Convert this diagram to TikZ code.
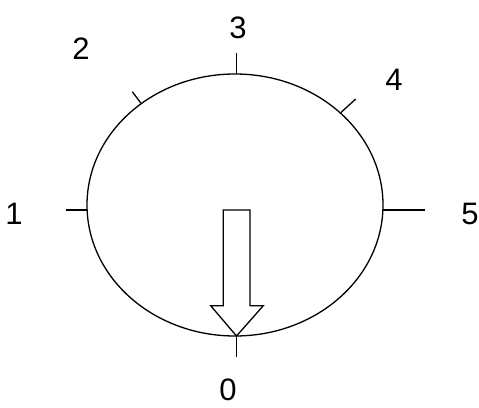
\documentclass[tikz,border=0pt]{standalone}
\usepackage{fontspec}
\setmainfont{Liberation Sans}
\usetikzlibrary{shapes.geometric}
\begin{document}
\begin{tikzpicture}[x=1pt,y=-1pt,
  line/.style={line width=1.3pt,line join=miter},
  lbl/.style={inner sep=0pt,font=\fontsize{31}{31}\selectfont}]
\clip (0,0) rectangle (479,407);
\useasboundingbox (0,0) rectangle (479,407);
% dial
\node[ellipse,draw,line width=1.3pt,inner sep=0pt,minimum width=296pt,minimum height=262pt] (dial) at (235,205) {};
% tick coordinates
\coordinate (t3a) at (236.5,74);
\coordinate (t3b) at (236.5,53);
\coordinate (t1a) at (87,210);
\coordinate (t1b) at (66,210);
\coordinate (t5a) at (383,210);
\coordinate (t5b) at (425,210);
\coordinate (t0a) at (236.5,336);
\coordinate (t0b) at (236.5,357);
\coordinate (t2a) at (141,103.3);
\coordinate (t2b) at (132.3,91.7);
\coordinate (t4a) at (340.7,112.7);
\coordinate (t4b) at (355.7,99);
\draw[line] (t3a) -- (t3b);
\draw[line] (t1a) -- (t1b);
\draw[line] (t5a) -- (t5b);
\draw[line] (t0a) -- (t0b);
\draw[line] (t2a) -- (t2b);
\draw[line] (t4a) -- (t4b);
% labels
\node[lbl] (l3) at (238,28) {3};
\node[lbl] (l2) at (81,49) {2};
\node[lbl] (l4) at (394,80) {4};
\node[lbl] (l1) at (14,214) {1};
\node[lbl] (l5) at (470,214) {5};
\node[lbl] (l0) at (228,390) {0};
% block arrow
\draw[line,fill=white] (223.3,210) -- (250,210) -- (250,305.7) -- (263.3,305.7)
  -- (236.5,336) -- (210.7,305.7) -- (223.3,305.7) -- cycle;
\end{tikzpicture}
\end{document}
